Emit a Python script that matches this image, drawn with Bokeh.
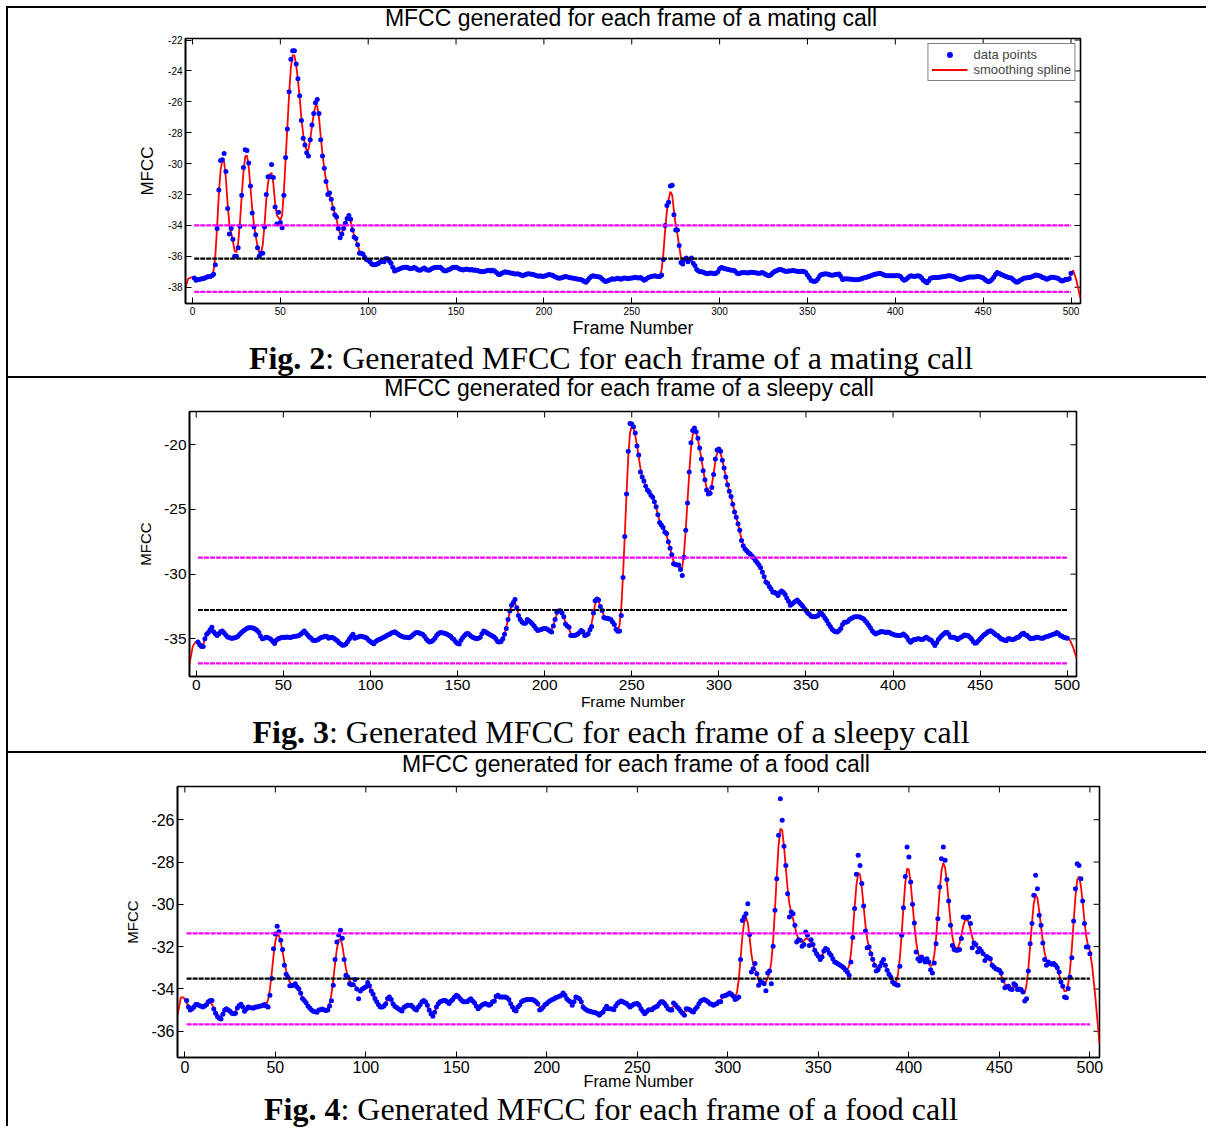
import numpy as np
from bokeh.plotting import figure
from bokeh.models import (Range1d, FixedTicker, Legend, LegendItem, Div, Spacer,
                          CustomJSTickFormatter)
from bokeh.layouts import row, column
from bokeh.embed import file_html
from bokeh.resources import INLINE

# ---------------- data ----------------
frames = list(range(1, 501))
x_ticks = [0, 50, 100, 150, 200, 250, 300, 350, 400, 450, 500]

mating_mfcc = [
 -37.4, -37.55, -37.5, -37.5, -37.45, -37.45, -37.4, -37.35, -37.3, -37.3,
 -37.25, -37.15, -36.55, -34.2, -31.7, -29.8, -29.75, -29.35, -30.5, -32.9,
 -34.55, -34.2, -34.9, -36.0, -36.0, -35.45, -34.05, -32.05, -30.25, -29.1,
 -29.15, -29.95, -31.45, -33.2, -34.1, -34.6, -35.45, -36.0, -35.8, -35.8,
 -34.1, -32.0, -30.85, -30.85, -30.05, -30.9, -32.8, -33.9, -33.15, -33.8,
 -34.15, -32.05, -29.6, -27.75, -25.35, -23.25, -22.7, -22.7, -23.55, -24.5,
 -25.6, -27.2, -28.35, -28.8, -29.3, -29.5, -28.45, -27.5, -26.75, -26.05,
 -25.85, -26.75, -28.45, -29.5, -30.3, -31.15, -32.0, -31.9, -32.3, -32.9,
 -33.3, -33.45, -34.2, -34.8, -34.55, -34.2, -33.85, -33.55, -33.35, -33.6,
 -34.3, -34.75, -34.85, -35.25, -35.8, -35.8, -35.85, -36.05, -36.2, -36.25,
 -36.35, -36.5, -36.55, -36.55, -36.5, -36.45, -36.35, -36.3, -36.35, -36.15,
 -36.15, -36.3, -36.45, -36.7, -36.95, -36.9, -36.85, -36.8, -36.75, -36.72,
 -36.7, -36.7, -36.75, -36.8, -36.78, -36.72, -36.75, -36.85, -36.9, -36.88,
 -36.8, -36.75, -36.85, -36.9, -36.88, -36.8, -36.75, -36.72, -36.7, -36.72,
 -36.7, -36.8, -36.92, -36.95, -36.9, -36.85, -36.8, -36.72, -36.7, -36.7,
 -36.75, -36.82, -36.85, -36.88, -36.85, -36.82, -36.85, -36.88, -36.85, -36.9,
 -36.88, -36.92, -36.95, -36.98, -37.0, -36.98, -36.95, -36.92, -36.9, -36.95,
 -36.9, -36.95, -37.05, -37.15, -37.18, -37.1, -37.05, -37.0, -37.02, -37.05,
 -37.08, -37.1, -37.12, -37.14, -37.12, -37.16, -37.2, -37.25, -37.2, -37.15,
 -37.12, -37.14, -37.15, -37.18, -37.22, -37.25, -37.28, -37.25, -37.3, -37.28,
 -37.25, -37.2, -37.18, -37.2, -37.22, -37.3, -37.35, -37.4, -37.42, -37.38,
 -37.35, -37.3, -37.32, -37.35, -37.38, -37.4, -37.42, -37.45, -37.47, -37.48,
 -37.5, -37.55, -37.62, -37.68, -37.55, -37.4, -37.3, -37.25, -37.28, -37.3,
 -37.32, -37.35, -37.45, -37.55, -37.62, -37.6, -37.55, -37.5, -37.45, -37.48,
 -37.45, -37.42, -37.45, -37.48, -37.42, -37.4, -37.42, -37.45, -37.42, -37.4,
 -37.38, -37.35, -37.38, -37.4, -37.36, -37.45, -37.55, -37.5, -37.4, -37.35,
 -37.3, -37.28, -37.25, -37.28, -37.3, -37.3, -37.2, -36.2, -34.0, -32.7,
 -32.5, -31.45, -31.4, -33.3, -34.3, -34.3, -35.3, -36.4, -36.5, -36.2,
 -36.1, -36.35, -36.2, -36.1, -36.45, -36.6, -36.85, -36.95, -37.0, -37.0,
 -37.05, -37.1, -37.12, -37.1, -37.08, -37.1, -37.12, -37.1, -37.0, -36.8,
 -36.72, -36.75, -36.8, -36.82, -36.85, -36.88, -36.9, -36.9, -36.98, -37.1,
 -37.12, -37.08, -37.05, -37.05, -37.06, -37.08, -37.05, -37.03, -37.05, -37.05,
 -37.08, -37.1, -37.1, -37.05, -37.08, -37.15, -37.2, -37.25, -37.2, -37.1,
 -37.0, -36.95, -36.9, -36.85, -36.85, -36.9, -36.95, -36.98, -36.95, -36.95,
 -36.93, -36.92, -36.95, -36.97, -36.98, -36.98, -36.97, -36.98, -37.05, -37.2,
 -37.36, -37.55, -37.6, -37.62, -37.57, -37.45, -37.25, -37.18, -37.15, -37.12,
 -37.14, -37.16, -37.2, -37.22, -37.2, -37.18, -37.15, -37.14, -37.3, -37.5,
 -37.47, -37.45, -37.46, -37.47, -37.48, -37.5, -37.52, -37.52, -37.5, -37.48,
 -37.44, -37.4, -37.36, -37.33, -37.3, -37.25, -37.2, -37.17, -37.14, -37.12,
 -37.1, -37.12, -37.18, -37.22, -37.25, -37.25, -37.25, -37.25, -37.25, -37.25,
 -37.24, -37.25, -37.3, -37.45, -37.55, -37.5, -37.4, -37.3, -37.25, -37.28,
 -37.3, -37.27, -37.25, -37.28, -37.4, -37.55, -37.62, -37.7, -37.58, -37.42,
 -37.38, -37.37, -37.37, -37.36, -37.35, -37.34, -37.32, -37.3, -37.28, -37.26,
 -37.25, -37.27, -37.3, -37.35, -37.42, -37.47, -37.52, -37.48, -37.44, -37.4,
 -37.36, -37.34, -37.34, -37.33, -37.34, -37.32, -37.3, -37.32, -37.35, -37.4,
 -37.5, -37.58, -37.65, -37.6, -37.5, -37.35, -37.18, -37.05, -37.1, -37.15,
 -37.2, -37.25, -37.3, -37.35, -37.38, -37.4, -37.5, -37.6, -37.68, -37.65,
 -37.55, -37.5, -37.42, -37.4, -37.38, -37.36, -37.35, -37.3, -37.25, -37.2,
 -37.22, -37.25, -37.3, -37.38, -37.4, -37.48, -37.45, -37.38, -37.35, -37.35,
 -37.38, -37.4, -37.45, -37.55, -37.6, -37.55, -37.48, -37.5, -37.45, -37.1,
]

sleepy_mfcc = [
 -35.25, -35.45, -35.6, -35.6, -35.0, -34.65, -34.5, -34.3, -34.1, -34.45,
 -34.6, -34.75, -34.6, -34.45, -34.4, -34.55, -34.7, -34.85, -34.9, -34.95,
 -34.95, -34.92, -34.88, -34.8, -34.65, -34.5, -34.4, -34.3, -34.2, -34.15,
 -34.15, -34.15, -34.18, -34.25, -34.35, -34.5, -34.8, -35.0, -34.95, -34.88,
 -34.9, -34.95, -35.05, -35.2, -35.35, -35.1, -35.0, -34.95, -34.9, -34.88,
 -34.9, -34.85, -34.88, -34.9, -34.85, -34.82, -34.8, -34.78, -34.75, -34.65,
 -34.5, -34.4, -34.55, -34.7, -34.85, -34.95, -35.1, -35.12, -35.1, -35.05,
 -34.95, -34.88, -34.85, -34.8, -34.82, -34.95, -34.9, -34.88, -34.95, -35.05,
 -35.15, -35.3, -35.4, -35.5, -35.48, -35.4, -35.2, -35.0, -34.8, -34.65,
 -34.95, -34.9, -34.85, -34.8, -34.8, -34.85, -34.88, -34.95, -35.1, -35.2,
 -35.3, -35.38, -35.2, -35.1, -35.05, -35.0, -34.92, -34.85, -34.78, -34.7,
 -34.65, -34.55, -34.5, -34.45, -34.55, -34.65, -34.75, -34.8, -34.85, -34.88,
 -34.88, -34.92, -34.85, -34.75, -34.62, -34.52, -34.5, -34.55, -34.6, -34.65,
 -34.8, -35.0, -35.15, -35.25, -35.2, -35.1, -34.95, -34.75, -34.6, -34.5,
 -34.52, -34.55, -34.58, -34.65, -34.72, -34.8, -34.95, -35.05, -35.25, -35.35,
 -35.4, -35.1, -34.9, -34.75, -34.6, -34.58, -34.7, -34.82, -34.9, -34.95,
 -35.0, -34.95, -34.88, -34.6, -34.4, -34.45, -34.55, -34.62, -34.7, -34.78,
 -34.85, -35.0, -35.2, -35.25, -35.2, -35.0, -34.65, -34.2, -33.5, -32.85,
 -32.4, -32.2, -31.95, -32.6, -33.2, -33.5, -33.7, -33.8, -33.8, -33.5,
 -33.6, -33.72, -33.85, -34.0, -34.2, -34.35, -34.32, -34.28, -34.22, -34.2,
 -34.22, -34.3, -34.4, -34.48, -34.0, -33.5, -32.95, -32.85, -32.82, -33.0,
 -33.3, -33.85, -34.0, -34.1, -34.75, -34.75, -34.75, -34.7, -34.62, -34.5,
 -34.35, -34.45, -34.75, -34.7, -34.6, -34.3, -34.05, -33.0, -32.05, -31.92,
 -32.0, -32.5, -32.8, -33.35, -33.4, -33.4, -33.45, -33.5, -33.7, -33.9,
 -34.25, -34.42, -34.4, -33.2, -30.25, -27.1, -23.8, -20.5, -18.35, -18.4,
 -18.6, -19.1, -20.1, -20.8, -22.1, -22.5, -22.8, -23.2, -23.5, -23.65,
 -23.9, -24.05, -24.4, -24.8, -25.4, -26.0, -26.2, -26.4, -26.75, -26.85,
 -27.5, -28.0, -28.5, -29.2, -29.25, -29.3, -29.3, -29.65, -30.1, -28.7,
 -26.6, -24.5, -22.1, -19.85, -18.9, -18.7, -19.0, -19.5, -20.25, -21.1,
 -22.0, -22.7, -23.5, -23.8, -23.75, -23.3, -22.3, -21.1, -20.4, -20.33,
 -20.5, -21.2, -21.8, -22.5, -23.1, -23.6, -24.0, -24.6, -25.2, -25.6,
 -26.1, -26.6, -27.4, -27.8, -28.05, -28.2, -28.35, -28.45, -28.6, -28.75,
 -28.95, -29.1, -29.3, -29.5, -29.85, -30.2, -30.6, -30.7, -30.95, -31.15,
 -31.4, -31.4, -31.5, -31.65, -31.42, -31.3, -31.4, -31.58, -31.85, -32.1,
 -32.4, -32.3, -32.2, -32.1, -32.0, -32.15, -32.3, -32.45, -32.65, -32.8,
 -33.0, -33.1, -33.25, -33.29, -33.3, -33.25, -33.2, -32.95, -33.05, -33.2,
 -33.4, -33.6, -33.85, -34.05, -34.25, -34.37, -34.45, -34.48, -34.35, -34.2,
 -33.9, -33.72, -33.72, -33.65, -33.5, -33.42, -33.35, -33.3, -33.3, -33.29,
 -33.32, -33.38, -33.45, -33.6, -33.75, -33.95, -34.15, -34.37, -34.5, -34.62,
 -34.55, -34.5, -34.44, -34.45, -34.48, -34.5, -34.48, -34.5, -34.6, -34.65,
 -34.7, -34.72, -34.75, -34.75, -34.7, -34.62, -34.75, -34.88, -35.1, -35.26,
 -35.15, -35.05, -35.06, -35.0, -35.0, -35.05, -35.06, -34.95, -34.88, -34.95,
 -35.06, -35.1, -35.3, -35.52, -35.3, -35.06, -34.9, -34.75, -34.62, -34.5,
 -34.49, -34.65, -34.88, -34.88, -34.88, -34.95, -35.06, -34.95, -34.88, -34.8,
 -34.7, -34.72, -34.75, -34.85, -35.0, -35.2, -35.34, -35.3, -35.15, -35.0,
 -34.85, -34.7, -34.62, -34.5, -34.42, -34.37, -34.45, -34.57, -34.68, -34.75,
 -34.88, -35.0, -35.05, -35.1, -35.14, -35.0, -35.0, -35.05, -35.06, -35.0,
 -34.9, -34.88, -34.75, -34.6, -34.57, -34.7, -34.75, -34.88, -35.0, -34.95,
 -34.95, -34.88, -34.88, -34.92, -34.95, -34.95, -34.88, -34.83, -34.8, -34.75,
 -34.7, -34.65, -34.6, -34.5, -34.6, -34.75, -34.8, -34.88, -34.92, -34.95,
]

food_mfcc = [
 -34.55, -34.85, -35.0, -34.93, -34.85, -34.74, -34.74, -34.78, -34.82, -34.85,
 -34.8, -34.74, -34.6, -34.55, -34.55, -34.95, -35.15, -35.3, -35.38, -35.42,
 -35.2, -35.0, -34.93, -35.0, -35.05, -35.15, -35.17, -35.15, -34.9, -34.78,
 -34.72, -34.85, -35.05, -34.95, -34.85, -34.88, -34.9, -34.9, -34.85, -34.85,
 -34.82, -34.8, -34.78, -34.74, -34.8, -34.85, -34.3, -33.5, -32.1, -31.4,
 -31.04, -31.3, -31.7, -32.13, -32.88, -33.3, -33.45, -33.85, -33.85, -33.82,
 -33.75, -33.9, -34.0, -34.2, -34.45, -34.55, -34.65, -34.8, -34.9, -35.0,
 -35.05, -35.08, -35.1, -35.0, -34.98, -34.95, -35.0, -35.02, -35.0, -34.8,
 -34.56, -33.83, -32.61, -31.78, -31.45, -31.23, -31.6, -32.61, -33.35, -33.43,
 -33.75, -33.8, -33.8, -33.55, -34.0, -34.46, -34.1, -34.0, -33.95, -33.9,
 -33.7, -33.85, -34.1, -34.25, -34.45, -34.6, -34.75, -34.85, -34.85, -34.8,
 -34.7, -34.45, -34.38, -34.5, -34.7, -34.82, -34.88, -34.93, -35.0, -35.04,
 -34.88, -34.82, -34.77, -34.77, -34.77, -34.85, -34.95, -35.0, -34.85, -34.75,
 -34.6, -34.54, -34.62, -34.77, -35.0, -35.17, -35.29, -35.1, -34.85, -34.7,
 -34.61, -34.57, -34.54, -34.54, -34.62, -34.69, -34.57, -34.5, -34.38, -34.3,
 -34.35, -34.45, -34.55, -34.61, -34.61, -34.61, -34.52, -34.46, -34.57, -34.65,
 -34.8, -34.93, -34.85, -34.77, -34.72, -34.69, -34.72, -34.77, -34.72, -34.6,
 -34.57, -34.35, -34.3, -34.38, -34.38, -34.38, -34.38, -34.42, -34.5, -34.7,
 -34.85, -35.0, -35.04, -34.85, -34.77, -34.6, -34.54, -34.52, -34.5, -34.5,
 -34.5, -34.5, -34.55, -34.6, -34.7, -35.0, -34.95, -34.85, -34.75, -34.69,
 -34.6, -34.54, -34.5, -34.46, -34.4, -34.38, -34.35, -34.3, -34.19, -34.3,
 -34.46, -34.55, -34.61, -34.77, -34.6, -34.38, -34.42, -34.46, -34.6, -34.85,
 -34.93, -35.0, -35.04, -35.05, -35.09, -35.1, -35.12, -35.17, -35.24, -35.15,
 -35.09, -34.95, -34.82, -34.93, -34.93, -34.95, -34.98, -34.8, -34.69, -34.62,
 -34.57, -34.6, -34.65, -34.69, -34.77, -34.85, -34.78, -34.72, -34.7, -34.69,
 -34.77, -34.93, -35.05, -35.17, -35.1, -35.0, -34.98, -34.98, -34.9, -34.85,
 -34.82, -34.7, -34.61, -34.61, -34.69, -34.8, -34.93, -35.0, -35.0, -34.66,
 -34.75, -34.85, -34.93, -35.05, -35.15, -35.24, -34.93, -34.95, -34.98, -35.05,
 -35.09, -34.95, -34.85, -34.7, -34.57, -34.52, -34.5, -34.54, -34.6, -34.69,
 -34.72, -34.77, -34.72, -34.69, -34.61, -34.61, -34.35, -34.32, -34.3, -34.25,
 -34.19, -34.25, -34.35, -34.5, -34.45, -34.38, -32.61, -30.76, -30.6, -30.44,
 -29.97, -31.42, -33.2, -33.04, -32.8, -33.28, -33.83, -33.62, -33.7, -33.75,
 -34.09, -33.24, -33.15, -33.75, -31.98, -30.28, -28.79, -26.74, -25.01, -26.03,
 -27.26, -28.16, -29.5, -30.6, -30.36, -30.44, -30.99, -31.78, -31.67, -31.7,
 -31.98, -31.9, -31.31, -31.46, -31.94, -31.67, -31.9, -32.17, -32.33, -32.45,
 -32.61, -32.49, -32.2, -32.09, -32.14, -32.3, -32.41, -32.57, -32.72, -32.76,
 -32.82, -32.88, -32.93, -33.0, -33.1, -33.2, -33.35, -32.72, -31.57, -30.2,
 -28.58, -27.68, -28.16, -29.02, -30.08, -31.26, -32.05, -32.02, -32.33, -32.6,
 -32.88, -33.15, -33.09, -32.93, -32.75, -32.61, -32.88, -33.12, -33.3, -33.43,
 -33.67, -33.75, -33.8, -33.83, -32.93, -31.46, -30.16, -28.68, -27.29, -27.76,
 -28.94, -30.0, -30.88, -32.25, -32.57, -32.68, -32.49, -32.6, -32.72, -32.57,
 -32.72, -33.09, -33.24, -32.77, -31.86, -30.68, -29.18, -27.84, -27.29, -27.92,
 -28.83, -29.84, -30.99, -31.94, -32.14, -32.17, -32.17, -32.14, -31.62, -30.6,
 -30.63, -30.63, -30.6, -30.91, -32.05, -31.83, -31.9, -32.25, -32.09, -32.2,
 -32.33, -32.65, -32.46, -32.52, -32.57, -32.88, -32.96, -33.04, -33.08, -33.12,
 -33.24, -33.6, -33.94, -33.91, -33.87, -34.0, -34.03, -33.75, -33.83, -34.03,
 -34.0, -34.03, -34.14, -34.57, -34.46, -33.15, -31.86, -30.91, -29.57, -28.63,
 -29.26, -30.52, -30.99, -31.83, -32.61, -32.88, -32.72, -32.8, -32.83, -32.8,
 -32.88, -33.0, -33.2, -33.67, -33.87, -34.38, -34.41, -33.98, -33.43, -32.52,
 -30.79, -29.26, -28.08, -28.16, -28.79, -29.84, -30.91, -32.02, -32.02, -32.33,
]

# threshold levels: upper (magenta), mean (black), lower (magenta)
mating_levels = [-34.0, -36.15, -38.3]
sleepy_levels = [-28.73, -32.77, -36.89]
food_levels = [-31.37, -33.51, -35.67]

mating_y_ticks = [-38, -36, -34, -32, -30, -28, -26, -24, -22]
sleepy_y_ticks = [-35, -30, -25, -20]
food_y_ticks = [-36, -34, -32, -30, -28, -26]

# smoothing-spline end segments beyond the data
mating_spline_left = ([-4.0, -2.5, -0.5], [-38.0, -37.45, -37.35])
mating_spline_right = ([501.2, 503.0, 505.3], [-36.9, -37.5, -38.7])
sleepy_spline_left = ([-3.85, -2.0, -0.5], [-36.93, -35.6, -35.25])
sleepy_spline_right = ([501.5, 503.5, 505.3], [-35.1, -35.7, -36.5])
food_spline_left = ([-4.0, -2.2, -0.7], [-35.24, -34.4, -34.4])
food_spline_right = ([501.3, 503.0, 505.3], [-32.96, -34.38, -36.6])

assert len(mating_mfcc) == 500 and len(sleepy_mfcc) == 500 and len(food_mfcc) == 500

SANS = "Liberation Sans"
FULL_W = 1198


def smooth(vals, sigma):
    v = np.asarray(vals, float)
    r = int(np.ceil(3 * sigma))
    k = np.exp(-0.5 * (np.arange(-r, r + 1) / sigma) ** 2)
    k /= k.sum()
    padded = np.concatenate([np.full(r, v[0]), v, np.full(r, v[-1])])
    return np.convolve(padded, k, mode="valid")


def make_panel(y, levels, yticks, xr, yr, frame, borders, tick_fs, xlab_fs,
               ylab_fs, xlab_standoff, ylab_standoff, sigma, ext_l, ext_r, legend=False):
    fw, fh = frame
    left, right, top, bottom = borders
    p = figure(frame_width=fw, frame_height=fh, x_range=Range1d(*xr), y_range=Range1d(*yr),
               output_backend="svg", toolbar_location=None,
               min_border_left=left, min_border_right=right,
               min_border_top=top, min_border_bottom=bottom)
    try:
        p.frame_align = False
    except Exception:
        pass
    p.xgrid.visible = False
    p.ygrid.visible = False
    p.background_fill_color = "white"
    p.border_fill_color = "white"
    p.outline_line_color = "black"
    p.outline_line_width = 1.6

    fmt = CustomJSTickFormatter(code="return tick.toFixed(0);")
    xa = p.xaxis[0]
    ya = p.yaxis[0]
    xa.ticker = FixedTicker(ticks=x_ticks)
    ya.ticker = FixedTicker(ticks=yticks)
    xa.formatter = fmt
    ya.formatter = fmt
    xa.axis_label = "Frame Number"
    ya.axis_label = "MFCC"
    xa.axis_label_text_font_size = xlab_fs
    ya.axis_label_text_font_size = ylab_fs
    xa.axis_label_standoff = xlab_standoff
    ya.axis_label_standoff = ylab_standoff
    for ax in (xa, ya):
        ax.major_tick_in = 6
        ax.major_tick_out = 0
        ax.minor_tick_in = 0
        ax.minor_tick_out = 0
        ax.axis_line_width = 1.6
        ax.axis_line_color = "black"
        ax.major_tick_line_color = "black"
        ax.major_tick_line_width = 1
        ax.axis_label_text_font = SANS
        ax.axis_label_text_font_style = "normal"
        ax.axis_label_text_color = "black"
        ax.major_label_text_font = SANS
        ax.major_label_text_color = "black"
        ax.major_label_text_font_size = tick_fs
        ax.major_label_standoff = 3

    # mirrored inward ticks on the top and right frame edges (6 px long)
    dy = 6.0 * (yr[1] - yr[0]) / fh
    dx = 6.0 * (xr[1] - xr[0]) / fw
    p.segment(x0=x_ticks, y0=[yr[1]] * len(x_ticks), x1=x_ticks,
              y1=[yr[1] - dy] * len(x_ticks), line_color="black", line_width=1)
    p.segment(x0=[xr[1]] * len(yticks), y0=yticks, x1=[xr[1] - dx] * len(yticks),
              y1=yticks, line_color="black", line_width=1)

    sm = smooth(y, sigma)
    sx = list(ext_l[0]) + frames + list(ext_r[0])
    sy = list(ext_l[1]) + list(sm) + list(ext_r[1])
    spl = p.line(sx, sy, line_color="#ff0000", line_width=1.8)
    pts = p.scatter(frames, y, size=5, marker="circle", fill_color="#0000ff",
                    line_color="#0000ff", line_width=0)
    cols = ["#ff00ff", "#000000", "#ff00ff"]
    for lv, c in zip(levels, cols):
        p.line(frames, np.full(len(frames), lv), line_color=c, line_width=2.2,
               line_dash="5 1")
    if legend:
        lg = Legend(items=[LegendItem(label="data points", renderers=[pts]),
                           LegendItem(label="smoothing spline", renderers=[spl])],
                    location="top_right", margin=5, padding=3, spacing=0,
                    label_height=15, glyph_height=15, glyph_width=36, label_standoff=6,
                    label_text_font=SANS, label_text_font_size="13px",
                    border_line_color="black", border_line_width=1,
                    background_fill_color="white", background_fill_alpha=1)
        p.add_layout(lg)
    return p


def title_div(text, height, lh, shift):
    html = ('<div style="width:%dpx; font-family:\'Liberation Sans\',sans-serif; '
            'font-size:23px; line-height:%spx; text-align:center; color:black; '
            'position:relative; left:%dpx; white-space:nowrap;">%s</div>'
            % (FULL_W, lh, shift, text))
    return Div(text=html, width=FULL_W, height=height, margin=(0, 0, 0, 0))


def caption(num, rest, height, lh, shift):
    html = ('<div style="width:%dpx; font-family:\'Liberation Serif\',serif; '
            'font-size:32px; line-height:%dpx; text-align:center; color:black; '
            'position:relative; left:%dpx; white-space:nowrap;"><b>Fig. %s</b>: %s</div>'
            % (FULL_W, lh, shift, num, rest))
    return Div(text=html, width=FULL_W, height=height, margin=(0, 0, 0, 0))


def hbar():
    return Div(text="", width=FULL_W, height=2, margin=(0, 0, 0, 0),
               styles={"background-color": "black"})


p1 = make_panel(mating_mfcc, mating_levels, mating_y_ticks, (-3.98, 505.4),
                (-39.05, -21.9), (895, 265), (177, 126, 8, 37), "10px", "18px", "17px",
                0, 8, 0.9, mating_spline_left, mating_spline_right, legend=True)
p2 = make_panel(sleepy_mfcc, sleepy_levels, sleepy_y_ticks, (-3.85, 505.3),
                (-37.91, -17.43), (887, 265), (181, 130, 9, 38), "15.5px", "15.5px",
                "15px", 0, 7, 0.9, sleepy_spline_left, sleepy_spline_right)
p3 = make_panel(food_mfcc, food_levels, food_y_ticks, (-4.05, 505.3),
                (-37.24, -24.43), (922, 271), (169, 107, 8, 36), "16px", "16.4px",
                "15px", -4, 7, 1.3, food_spline_left, food_spline_right)

t1 = title_div("MFCC generated for each frame of a mating call", 22, 21.5, 24)
t2 = title_div("MFCC generated for each frame of a sleepy call", 24, 21.5, 22)
t3 = title_div("MFCC generated for each frame of a food call", 25, 23.5, 29)

c1 = caption("2", "Generated MFCC for each frame of a mating call", 36, 36, 4)
c2 = caption("3", "Generated MFCC for each frame of a sleepy call", 37, 37, 4)
c3 = caption("4", "Generated MFCC for each frame of a food call", 33, 33, 4)

inner = column(children=[hbar(), t1, p1, c1, hbar(), t2, p2, c2, hbar(), t3, p3, c3],
               spacing=0)
vbar = Div(text="", width=2, height=1120, margin=(0, 0, 0, 0),
           styles={"background-color": "black"})
layout = column(children=[Spacer(width=1206, height=6),
                          row(children=[Spacer(width=6, height=1120), vbar, inner], spacing=0)],
                spacing=0)

open("out.html", "w").write(file_html(layout, INLINE))
